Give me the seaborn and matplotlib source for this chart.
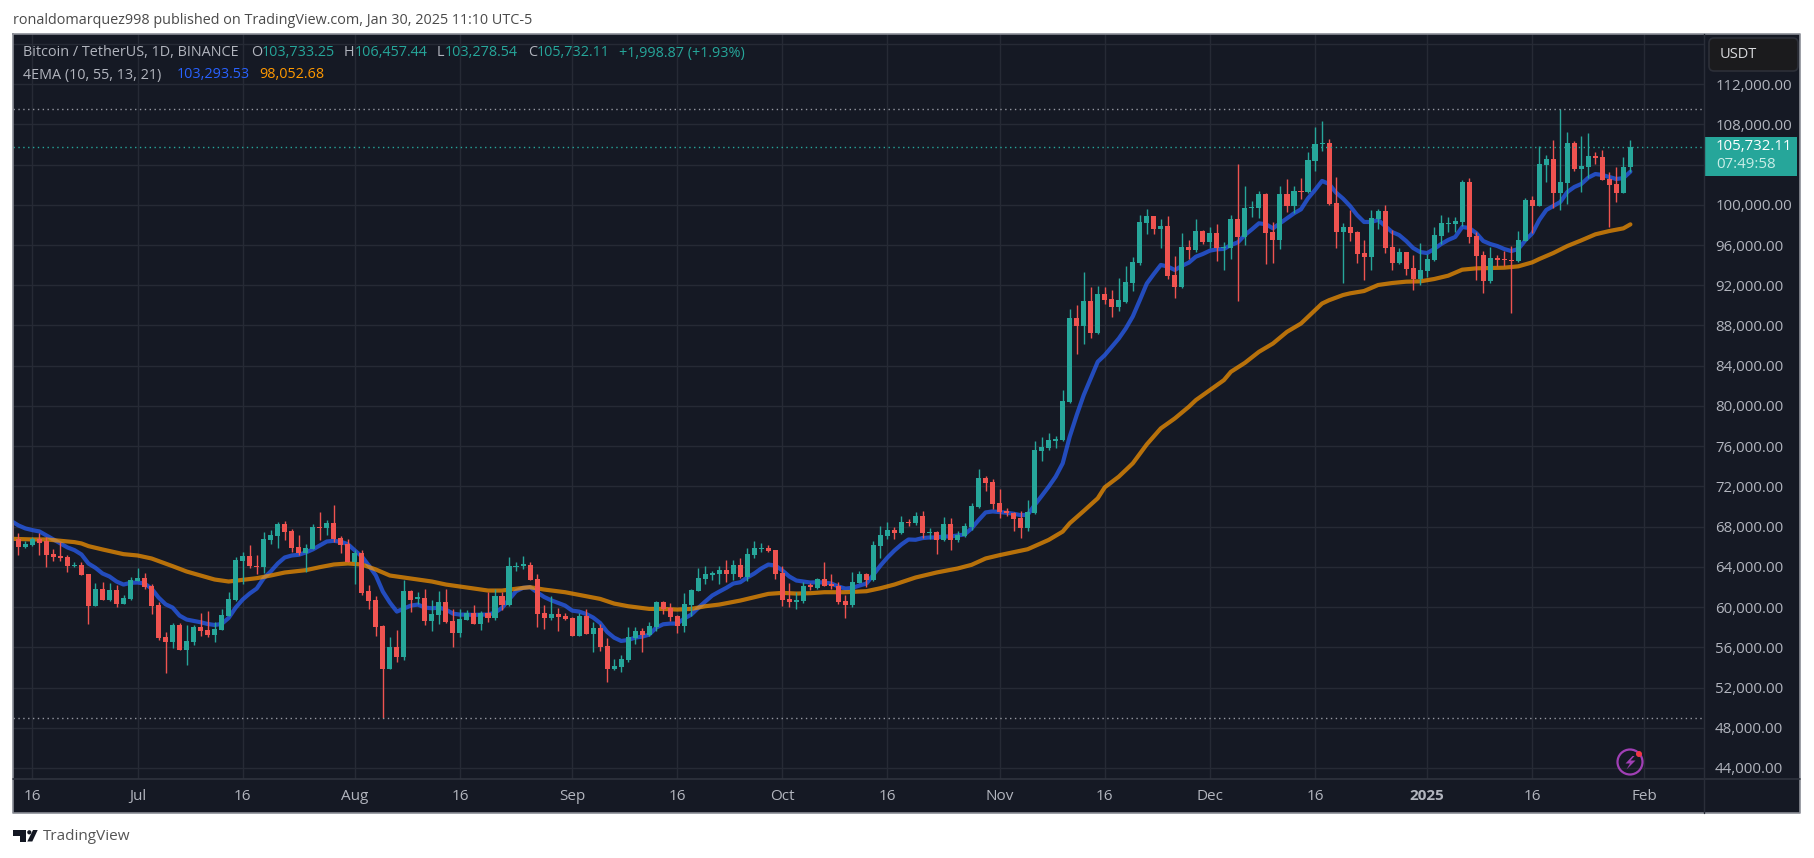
import pandas as pd
import matplotlib.pyplot as plt
import seaborn as sns
from matplotlib.patches import Circle, Polygon, FancyBboxPatch, Rectangle

# daily OHLC, first candle 2024-06-13
first_day = "2024-06-13"

opens = [
    68400, 66790, 65930, 66130, 66720, 66560, 65230, 65030, 64930, 64040,
    64230, 63240, 60150, 61840, 60750, 61740, 60350, 60850, 62610, 62940,
    62140, 60250, 57060, 56560, 58260, 55770, 56560, 58060, 57760, 57260,
    57760, 59150, 60750, 64630, 65030, 64130, 63940, 66620, 67020, 68220,
    67520, 65930, 65330, 65730, 67920, 67820, 68320, 66820, 66230, 64530,
    65330, 61550, 60750, 58160, 53880, 56070, 55070, 61640, 60850, 60950,
    58660, 59250, 60550, 58660, 57460, 58760, 59450, 58360, 59450, 58960,
    61150, 60250, 63940, 64130, 64230, 62840, 59450, 58960, 59350, 59150,
    58960, 57160, 59150, 57360, 57960, 56170, 53880, 54080, 54770, 56960,
    57660, 57260, 58060, 60550, 59950, 59150, 58160, 60250, 61640, 62840,
    63140, 63240, 63640, 63240, 64230, 63040, 65130, 65730, 65830, 65630,
    63340, 60850, 60550, 60650, 62140, 61940, 62840, 62240, 62140, 60650,
    60250, 62440, 63240, 62740, 66030, 67020, 67620, 67320, 68420, 68320,
    69020, 67320, 67420, 66620, 68220, 66620, 67020, 67920, 69910, 72800,
    72400, 70310, 69510, 69380, 68820, 67820, 69320, 75490, 75790, 76490,
    76590, 80370, 88740, 87940, 90430, 87240, 91130, 90630, 89830, 90340,
    92220, 94210, 98190, 98890, 97600, 97890, 93020, 91830, 95800, 95510,
    97400, 96300, 97200, 95710, 95710, 98590, 96800, 99680, 99680, 101080,
    97300, 96500, 101080, 99880, 101370, 101280, 104360, 106050, 106150, 100180,
    97300, 97790, 97300, 95200, 94810, 98590, 99380, 95800, 94210, 95300,
    93710, 92620, 93410, 94510, 96900, 98090, 98090, 98290, 102270, 96900,
    95010, 92420, 94710, 94610, 94510, 94410, 96400, 100480, 99880, 103960,
    104550, 101170, 102170, 106140, 103560, 103760, 104850, 104750, 102560, 102070,
    101170, 103733.25,
]
highs = [
    68500, 67390, 66560, 66990, 67320, 66990, 65730, 66460, 65130, 64500,
    64500, 63300, 62440, 62540, 62440, 62240, 61210, 63010, 63840, 63340,
    62340, 60550, 57560, 58420, 58420, 58260, 58260, 59450, 59650, 58560,
    59850, 61450, 64930, 65430, 66130, 65130, 67420, 67620, 68420, 68520,
    67790, 67120, 66230, 68220, 69410, 68620, 70110, 67020, 66790, 65630,
    65630, 62240, 61150, 58260, 57060, 57760, 62740, 61740, 61450, 61840,
    60750, 61550, 61840, 59850, 59850, 59750, 60250, 59650, 61450, 61840,
    61450, 64930, 64530, 65030, 64530, 63240, 60250, 61150, 59950, 59450,
    59060, 59450, 59850, 58560, 58360, 56960, 54870, 55270, 58060, 58060,
    57960, 58560, 60650, 60650, 60450, 59250, 61350, 61840, 63840, 64130,
    63540, 64040, 64730, 64730, 64830, 65830, 66530, 66330, 66130, 65630,
    64130, 62440, 61450, 62540, 62440, 62940, 64530, 63240, 62540, 61250,
    63440, 63540, 63340, 66530, 68020, 68420, 67920, 69020, 68720, 69410,
    69510, 67820, 67520, 68920, 68820, 67520, 68320, 70310, 73690, 73000,
    72700, 71700, 69880, 69450, 69510, 70610, 76490, 76880, 77280, 76980,
    81570, 89630, 90030, 93320, 91820, 91920, 91820, 91530, 92720, 93920,
    94810, 98960, 99580, 98890, 98590, 98890, 94910, 97200, 96500, 98590,
    97500, 97790, 98090, 96300, 98990, 104060, 101870, 100380, 101370, 101180,
    98290, 101870, 102570, 101870, 102670, 105250, 107740, 108340, 106550, 102770,
    98190, 99490, 97400, 96500, 99480, 99580, 99980, 97490, 95700, 95300,
    95010, 96200, 95110, 97790, 98980, 98780, 98780, 102460, 102660, 97290,
    95400, 95800, 95010, 95400, 95900, 97390, 100670, 100870, 105850, 104950,
    106440, 109520, 107240, 106340, 106840, 107140, 105250, 105450, 103260, 103760,
    104750, 106457.44,
]
lows = [
    66790, 65130, 65830, 66060, 65130, 64000, 64630, 64570, 63470, 63940,
    63140, 58360, 60150, 60750, 60650, 60050, 60350, 60750, 62610, 61840,
    59350, 56760, 53480, 55970, 55770, 54270, 56270, 57160, 57060, 56560,
    57760, 59150, 60650, 62340, 63840, 63240, 63340, 66230, 65830, 66620,
    65430, 65130, 63440, 65730, 66620, 67120, 66430, 65330, 64530, 62340,
    61250, 59850, 57160, 49000, 53880, 54570, 54770, 59550, 60350, 58260,
    57660, 58360, 58460, 56070, 57060, 58760, 58360, 57760, 58560, 58760,
    59750, 60150, 63540, 63800, 62740, 58060, 57860, 58760, 57660, 58760,
    57160, 57160, 57360, 55570, 55670, 52580, 53780, 53580, 54570, 56370,
    55570, 57160, 57660, 59350, 58660, 57460, 57560, 59150, 61550, 62340,
    62740, 62340, 62540, 62740, 62940, 62640, 64830, 65430, 65430, 62840,
    60150, 60050, 59850, 60450, 61740, 61840, 62140, 61840, 60350, 58960,
    60050, 62440, 62040, 62640, 64830, 66720, 66720, 67220, 68020, 68120,
    66820, 66720, 65230, 66530, 65630, 66430, 66920, 67620, 69810, 71500,
    69710, 68810, 69050, 67520, 66830, 67520, 69220, 74500, 75590, 75790,
    76490, 80270, 85150, 86150, 86750, 87140, 90130, 88840, 89440, 90240,
    91430, 94020, 97100, 97100, 95710, 92620, 90730, 91730, 94610, 95310,
    96100, 95710, 94410, 93520, 94610, 90440, 96000, 98790, 98690, 94120,
    94210, 95610, 99290, 99190, 100580, 101180, 103360, 105350, 99980, 95710,
    92230, 96400, 94210, 92520, 93510, 97590, 95200, 93510, 94110, 93020,
    91520, 92020, 92820, 94410, 96100, 97290, 97290, 97890, 96200, 92520,
    91230, 92220, 93910, 93910, 89240, 94310, 96400, 97190, 99880, 102270,
    99680, 99480, 100080, 103360, 101270, 102660, 104060, 102460, 97790, 100280,
    101170, 103278.54,
]
closes = [
    66790, 65930, 66230, 66720, 66390, 65130, 64930, 64830, 64040, 64230,
    63140, 60150, 61840, 60750, 61740, 60350, 60950, 62740, 62940, 62040,
    60150, 56960, 56560, 58260, 55770, 56660, 58060, 57660, 57260, 57860,
    59250, 60850, 64730, 65030, 64040, 63940, 66720, 67120, 68220, 67420,
    65830, 65330, 65830, 67920, 67820, 68320, 66720, 66130, 64530, 65330,
    61410, 60650, 58060, 53880, 56070, 55070, 61640, 60750, 60950, 58660,
    59350, 60550, 58560, 57460, 58860, 59450, 58360, 59450, 58960, 61150,
    60250, 64040, 64130, 64230, 62740, 59350, 58960, 59350, 59060, 58860,
    57160, 59150, 57360, 57960, 56070, 53880, 54170, 54870, 57060, 57660,
    57260, 58160, 60550, 59850, 59060, 58160, 60350, 61740, 62940, 63240,
    63340, 63640, 63240, 64230, 63040, 65230, 65830, 65830, 65530, 63240,
    60750, 60550, 60750, 62140, 62040, 62840, 62140, 62140, 60550, 60250,
    62540, 63240, 62740, 66130, 67120, 67620, 67320, 68420, 68320, 69020,
    67320, 67420, 66620, 68220, 66620, 67120, 68020, 70010, 72800, 72300,
    70210, 69410, 69320, 68720, 67820, 69410, 75590, 75890, 76590, 76690,
    80470, 88740, 87940, 90430, 87240, 91130, 90530, 89830, 90530, 92330,
    94310, 98290, 98890, 97600, 97890, 92920, 91830, 95800, 95510, 97400,
    96300, 97200, 95710, 95800, 98590, 96800, 99680, 99780, 101080, 97200,
    96500, 101080, 99880, 101370, 101280, 104460, 106050, 106150, 100080, 97300,
    97790, 97200, 95110, 94810, 98690, 99380, 95700, 94210, 95300, 93610,
    92620, 93510, 94610, 96990, 98190, 98190, 98390, 102270, 96800, 94910,
    92420, 94710, 94510, 94510, 94410, 96500, 100480, 99880, 104060, 104550,
    101170, 102270, 106140, 103560, 103860, 104850, 104650, 102460, 101970, 101170,
    103760, 105732.11,
]

# fast EMA, one value per candle
ema_fast = [
    68550, 68120, 67820, 67650, 67520, 67120, 66720, 66330, 65930, 65660,
    65230, 64330, 63900, 63340, 63040, 62540, 62240, 62410, 62440, 62340,
    61840, 60950, 60280, 59950, 59150, 58760, 58620, 58490, 58320, 58220,
    58320, 58920, 59950, 60750, 61350, 61840, 62870, 63540, 64330, 64930,
    65130, 65200, 65430, 65730, 66130, 66520, 66590, 66490, 66260, 65630,
    65030, 64130, 63140, 61540, 60450, 59550, 59850, 60150, 60250, 59950,
    59880, 59950, 59750, 59350, 59250, 59250, 59220, 59250, 59250, 59450,
    59920, 60750, 61580, 61910, 61980, 61480, 61010, 60680, 60420, 60150,
    59650, 59550, 59320, 58960, 58420, 57530, 56960, 56630, 56730, 56960,
    57060, 57260, 57960, 58290, 58360, 58360, 58860, 59250, 59920, 60550,
    61150, 61540, 61910, 62340, 62470, 62940, 63340, 63840, 64230, 64130,
    63640, 63040, 62640, 62540, 62440, 62470, 62440, 62340, 62040, 61840,
    61910, 62140, 62340, 63240, 64130, 64930, 65630, 66230, 66720, 66690,
    66860, 66920, 66920, 67020, 67020, 67120, 67220, 67820, 68650, 69410,
    69510, 69440, 69380, 69280, 69140, 69180, 70150, 71050, 71970, 72970,
    74290, 76940, 79090, 81080, 82730, 84390, 85050, 85880, 86700, 87700,
    88900, 90510, 92170, 93120, 94020, 93850, 93520, 93920, 94250, 94840,
    95110, 95440, 95570, 95610, 96000, 96270, 97000, 97560, 98160, 98060,
    97660, 98160, 98660, 99150, 99550, 100640, 101470, 102370, 102070, 101210,
    100610, 99880, 98980, 98290, 98290, 98490, 97890, 97290, 96990, 96400,
    95700, 95300, 95200, 95600, 96100, 96500, 96800, 97790, 97690, 97190,
    96400, 96100, 95900, 95600, 95400, 95600, 96460, 97160, 98490, 99480,
    99880, 100280, 101270, 101770, 102070, 102700, 103060, 102960, 102760, 102560,
    102660, 103293.53,
]

# slow EMA is smooth, read every few candles (candle number counted from first_day)
ema_slow_day = [
    0, 3, 5, 7, 9, 10, 11, 13, 16, 18, 20, 23, 25, 27, 29, 31, 33, 35, 37, 39,
    42, 44, 46, 48, 50, 52, 54, 56, 58, 60, 62, 64, 66, 68, 69, 70, 73, 74, 76,
    79, 81, 84, 86, 88, 91, 93, 95, 97, 99, 101, 104, 106, 108, 110, 112, 114,
    116, 119, 122, 124, 126, 129, 132, 135, 137, 139, 141, 145, 148, 150, 151,
    153, 155, 156, 158, 160, 162, 164, 166, 168, 169, 171, 173, 174, 176, 178,
    180, 182, 184, 186, 187, 188, 190, 191, 193, 195, 197, 199, 201, 203, 205,
    207, 209, 211, 213, 215, 217, 218, 220, 222, 224, 226, 228, 230, 231,
]
ema_slow = [
    66790, 66724, 66724, 66591, 66458, 66326, 66060, 65728, 65263, 65130, 64832,
    64068, 63537, 63138, 62740, 62541, 62707, 62873, 63138, 63437, 63670, 63968,
    64234, 64334, 64234, 63736, 63138, 62939, 62740, 62541, 62242, 62043, 61844,
    61644, 61644, 61644, 61910, 61976, 61744, 61478, 61213, 60814, 60350, 60084,
    59818, 59818, 59752, 59818, 60084, 60250, 60648, 60980, 61312, 61412, 61346,
    61379, 61478, 61478, 61578, 61877, 62242, 62939, 63437, 63836, 64201, 64832,
    65164, 65751, 66678, 67506, 68333, 69557, 70815, 71908, 72967, 74291, 76178,
    77767, 78760, 79918, 80580, 81573, 82566, 83394, 84287, 85380, 86207, 87366,
    88193, 89517, 90179, 90510, 91027, 91193, 91425, 92022, 92221, 92353, 92386,
    92618, 92950, 93546, 93679, 93712, 93745, 93878, 94276, 94607, 95204, 95900,
    96464, 97061, 97392, 97657, 98053,
]

price_ticks = list(range(44000, 120000, 4000))
# 104,000 sits behind the last price tag and 116,000 behind the currency button
hidden_ticks = [104000, 116000]
date_ticks = ["2024-06-16", "2024-07-01", "2024-07-16", "2024-08-01", "2024-08-16", "2024-09-01",
              "2024-09-16", "2024-10-01", "2024-10-16", "2024-11-01", "2024-11-16", "2024-12-01",
              "2024-12-16", "2025-01-01", "2025-01-16", "2025-02-01"]
date_labels = ["16", "Jul", "16", "Aug", "16", "Sep", "16", "Oct", "16", "Nov", "16", "Dec", "16", "2025", "16", "Feb"]

last_close = 105732.11
range_high = 109525
range_low = 49000

BG = "#151924"
GRID = "#262a35"
GREEN = "#26a69a"
RED = "#ef5350"
TEXT = "#b2b5be"
FONT = "Open Sans"

W, H = 1814, 858

sns.set_theme(style="dark", rc={"axes.facecolor": BG, "figure.facecolor": "white"})
plt.rcParams["font.family"] = [FONT, "DejaVu Sans"]

df = pd.DataFrame({"open": opens, "high": highs, "low": lows, "close": closes})
df["date"] = pd.date_range(first_day, periods=len(df), freq="D")
df["color"] = [GREEN if c >= o else RED for o, c in zip(df["open"], df["close"])]
df["body"] = (df["close"] - df["open"]).abs().clip(lower=130)
df["bottom"] = df[["open", "close"]].min(axis=1)

fig = plt.figure(figsize=(W / 100, H / 100), dpi=100)

# plot area in pixels: x 13-1704, y 34-779
ax = fig.add_axes([13 / W, 1 - 779 / H, (1704 - 13) / W, (779 - 34) / H])

# ===EMAs under the candles===
sns.lineplot(x=df["date"], y=ema_fast, ax=ax, color="#2962ff", alpha=0.7, linewidth=3, legend=False, zorder=2)
slow_dates = pd.Timestamp(first_day) + pd.to_timedelta(ema_slow_day, unit="D")
sns.lineplot(x=slow_dates, y=ema_slow, ax=ax, color="#ff9800", alpha=0.7, linewidth=3, legend=False, zorder=2.1)

# ===candles===
ax.vlines(df["date"], df["low"], df["high"], colors=df["color"], linewidth=1, zorder=3, snap=True)
ax.bar(df["date"], df["body"], bottom=df["bottom"], width=0.72, color=df["color"], linewidth=0, zorder=3.1)

# high / low / last price dotted lines
ax.axhline(range_high, color="#9598a1", linestyle=(0, (1, 2.5)), linewidth=1, zorder=4)
ax.axhline(range_low, color="#9598a1", linestyle=(0, (1, 2.5)), linewidth=1, zorder=4)
ax.axhline(last_close, color=GREEN, linestyle=(0, (1, 2.5)), linewidth=1, zorder=4)

ax.set_xlim(pd.Timestamp("2024-06-16") - pd.Timedelta(days=2.77), pd.Timestamp("2024-06-16") + pd.Timedelta(days=238.5))
ax.set_ylim(42906, 116980)
ax.set_xticks(pd.to_datetime(date_ticks), labels=date_labels)
ax.set_yticks(price_ticks, labels=["" if p in hidden_ticks else f"{p:,.2f}" for p in price_ticks])
ax.yaxis.tick_right()
ax.tick_params(axis="x", length=0, pad=7.5, labelsize=11, labelcolor=TEXT)
ax.tick_params(axis="y", length=0, pad=8, labelsize=10.8, labelcolor=TEXT)
ax.get_xticklabels()[13].set_fontweight("bold")
ax.grid(True, color=GRID, linewidth=1)
ax.set_axisbelow(True)
ax.set_xlabel("")
ax.set_ylabel("")
for s in ax.spines.values():
    s.set_visible(False)

# ===page furniture, drawn in pixel coordinates on a clear overlay===
ov = fig.add_axes([0, 0, 1, 1], zorder=-1)
ov.set_xlim(0, W)
ov.set_ylim(H, 0)
ov.axis("off")
ov.add_patch(Rectangle((13, 34), 1787, 779, facecolor=BG, edgecolor="none"))

top = fig.add_axes([0, 0, 1, 1], zorder=5)
top.set_xlim(0, W)
top.set_ylim(H, 0)
top.axis("off")
top.patch.set_alpha(0)

top.plot([13, 1800, 1800, 13, 13], [34, 34, 813, 813, 34], color="#8a8d96", linewidth=1.2)
top.plot([13, 1800], [779, 779], color="#2f333e", linewidth=1.2)
top.plot([1704, 1704], [34, 813], color="#2a2e39", linewidth=1)

top.text(13, 20, "ronaldomarquez998 published on TradingView.com, Jan 30, 2025 11:10 UTC-5",
         color="#4a4a4a", fontsize=10.4, va="center")

# legend rows
for x, s, c in [(23, "Bitcoin / TetherUS, 1D, BINANCE", TEXT), (251, "O", TEXT), (262, "103,733.25", GREEN),
                (344, "H", TEXT), (355, "106,457.44", GREEN), (437, "L", TEXT), (445, "103,278.54", GREEN),
                (528, "C", TEXT), (537, "105,732.11", GREEN), (619, "+1,998.87 (+1.93%)", GREEN)]:
    top.text(x, 53, s, color=c, fontsize=10.4, va="center")
for x, s, c in [(23, "4EMA (10, 55, 13, 21)", TEXT), (177, "103,293.53", "#2962ff"), (259, "98,052.68", "#ff9800")]:
    top.text(x, 75, s, color=c, fontsize=10.4, va="center")

# currency button
top.add_patch(FancyBboxPatch((1711, 40), 85, 29, boxstyle="round,pad=2,rounding_size=5",
                             facecolor="#1b1b1d", edgecolor="#2c2f38", linewidth=1.2))
top.text(1720, 55, "USDT", color="#d8d9dc", fontsize=10.5, va="center")

# last price tag
top.add_patch(Rectangle((1705, 137), 92, 39, facecolor=GREEN, edgecolor="none"))
top.text(1716, 147, "105,732.11", color="white", fontsize=10.8, va="center")
top.text(1716, 165, "07:49:58", color="#c9ede7", fontsize=10.8, va="center")

# lightning icon
top.add_patch(Circle((1630, 762), 12.5, facecolor="none", edgecolor="#a03fb5", linewidth=1.6))
top.add_patch(Polygon([(1632.5, 756), (1625.5, 763.5), (1630, 763.5), (1626.5, 769.5), (1635.5, 760.5),
                       (1630.5, 760.5), (1634.5, 756)], facecolor="#a03fb5", edgecolor="none"))
top.add_patch(Circle((1639, 754), 3, facecolor="#f23645", edgecolor="none"))

# TradingView logo
top.add_patch(Polygon([(13, 830), (26, 830), (26, 841.5), (20, 841.5), (20, 835.5), (13, 835.5)],
                      facecolor="#131722", edgecolor="none"))
top.add_patch(Circle((29.3, 832.3), 2.1, facecolor="#131722", edgecolor="none"))
top.add_patch(Polygon([(33, 830), (37.7, 830), (32.3, 841.5), (27.3, 841.5)], facecolor="#131722", edgecolor="none"))
top.text(43, 837, "TradingView", color="#555555", fontsize=11, va="center")

fig.savefig("out.png", dpi=100)
